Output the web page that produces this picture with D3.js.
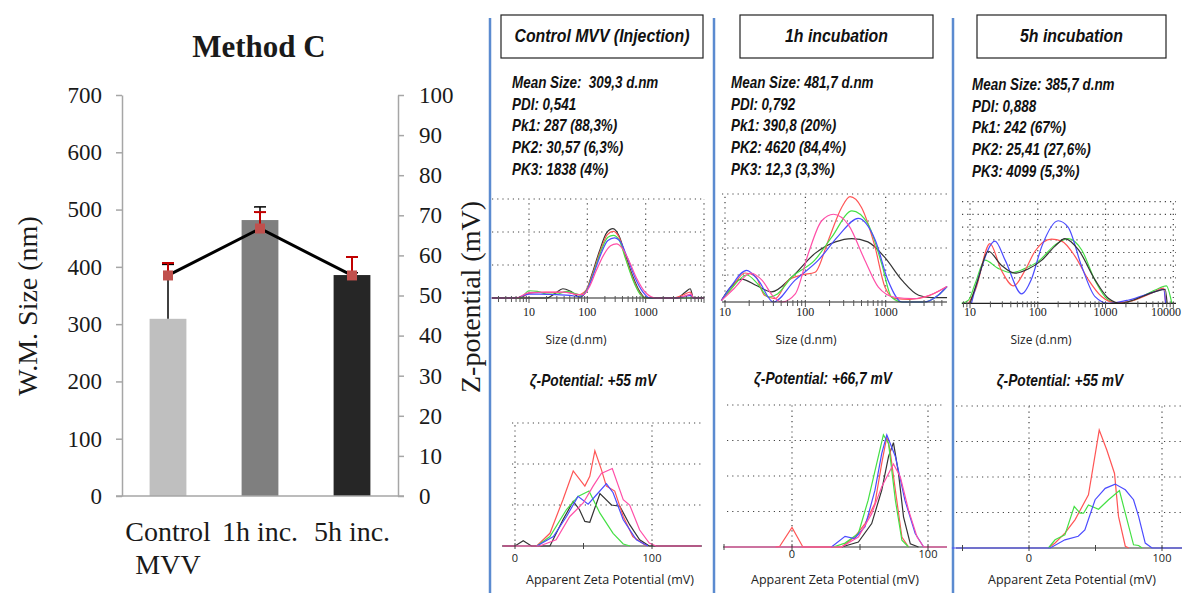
<!DOCTYPE html>
<html>
<head>
<meta charset="utf-8">
<script src="https://cdn.jsdelivr.net/npm/d3@7"></script>
<style>
  body { margin: 0; background: #fff; }
  svg { display: block; }
  .serif { font-family: "Liberation Serif", "Times New Roman", serif; fill: #1a1a1a; }
  .cal { font-family: "Liberation Sans", Arial, sans-serif; font-weight: bold; font-style: italic; fill: #111; }
  .sans { font-family: "Open Sans", "DejaVu Sans", sans-serif; fill: #222; }
</style>
</head>
<body>
<svg id="fig" width="1182" height="593"></svg>
<script>
// ---- left chart data ----
const categories = ['Control MVV', '1h inc.', '5h inc.'];
const categoryLines = [['Control', 'MVV'], ['1h inc.'], ['5h inc.']];
const sizeValues = [309.3, 481.7, 385.7];
const sizeErrors = [95, 23, 4];
const zetaValues = [55, 66.7, 55];
const zetaErrors = [3.1, 4.1, 4.6];
const sizeTicks = [0, 100, 200, 300, 400, 500, 600, 700];
const zetaTicks = [0, 10, 20, 30, 40, 50, 60, 70, 80, 90, 100];

// ---- right panels text ----
const panelTitles = ['Control MVV (Injection)', '1h incubation', '5h incubation'];
const panelStats = [
  ['Mean Size:  309,3 d.nm', 'PDI: 0,541', 'Pk1: 287 (88,3%)', 'PK2: 30,57 (6,3%)', 'PK3: 1838 (4%)'],
  ['Mean Size: 481,7 d.nm', 'PDI: 0,792', 'Pk1: 390,8 (20%)', 'PK2: 4620 (84,4%)', 'PK3: 12,3 (3,3%)'],
  ['Mean Size: 385,7 d.nm', 'PDI: 0,888', 'Pk1: 242 (67%)', 'PK2: 25,41 (27,6%)', 'PK3: 4099 (5,3%)']
];
const zetaTitles = ['ζ-Potential: +55 mV', 'ζ-Potential: +66,7 mV', 'ζ-Potential: +55 mV'];

// ---- size distributions [size d.nm, intensity] ----
const size1 = {
  black: [[2.3,0],[20,0],[28,0.7],[38,1.4],[52,1.0],[74,0.15],[95,1.0],[120,3.6],[160,7.0],[215,9.9],[275,10.5],[350,9.4],[450,6.5],[600,3.3],[800,0.9],[1000,0],[3400,0],[4800,0.9],[5800,1.4],[6600,0],[10000,0]],
  red: [[2.3,0],[7,0],[10,0.7],[15,0.85],[30,0.85],[45,0.9],[70,0.5],[95,1.2],[125,3.8],[165,7.0],[220,9.6],[280,10.1],[350,9.2],[450,6.2],[600,3.0],[800,0.7],[1000,0],[3000,0],[4500,0.5],[5800,0.9],[6600,0],[10000,0]],
  green: [[2.3,0],[7,0],[10,1.1],[14,1.0],[20,0.6],[30,0.6],[45,1.0],[60,0.7],[80,0.4],[100,1.4],[130,4.0],[170,7.0],[225,9.2],[280,9.5],[350,8.8],[450,6.0],[600,2.8],[800,0.6],[1000,0],[10000,0]],
  blue: [[2.3,0],[6,0],[10,0.6],[15,0.6],[30,0.5],[50,0.4],[75,0.2],[100,1.3],[130,3.8],[170,6.6],[225,8.7],[290,9.1],[370,8.5],[480,6.2],[650,3.2],[900,0.9],[1170,0],[3500,0],[5000,0.3],[6000,0.4],[6600,0],[10000,0]],
  pink: [[2.3,0],[6,0],[10,0.8],[20,0.9],[40,0.9],[60,0.6],[85,0.5],[110,1.8],[140,4.0],[190,6.5],[250,7.9],[315,8.2],[400,7.5],[520,5.6],[700,3.0],[1000,0.8],[1500,0],[3500,0],[5000,0.4],[6000,0.6],[6600,0],[10000,0]]
};
const size2 = {
  black: [[9,0.1],[11,0.9],[16,1.7],[25,1.2],[38,0.75],[68,1.85],[132,3.6],[236,4.45],[380,4.7],[600,4.45],[975,3.3],[1600,1.6],[2570,0.5],[3700,0.32],[5800,0.32]],
  red: [[9,0.1],[12,1.0],[17.7,2.15],[24,1.9],[31,0.5],[42,0.25],[61,1.6],[90,2.0],[132,2.2],[194,4.6],[283,7.0],[360,7.8],[500,7.0],[735,4.1],[980,1.1],[1310,0.25],[2000,0.2],[3200,0.4],[5800,1.15]],
  green: [[9,0.1],[12,1.0],[18.6,2.0],[25,1.4],[35,0.37],[45,0.6],[68,1.85],[131,3.1],[213,4.8],[380,6.75],[600,5.8],[890,2.85],[1180,0.37],[1600,0],[3000,0],[4500,0.5],[5800,1.15]],
  blue: [[9,0.1],[12,1.2],[18.6,2.35],[26,1.6],[40,0],[74,1.6],[145,3.1],[258,4.9],[455,6.2],[740,4.6],[1070,1.6],[1590,0],[3000,0],[4500,0.5],[5800,1.15]],
  pink: [[9,0.1],[13,1.0],[21,2.15],[29,1.6],[40,0.4],[51,0],[75,0.6],[109,3.6],[159,6.0],[224,6.5],[345,5.7],[550,3.1],[810,1.1],[1300,0.35],[2200,0.25],[3500,0.5],[5800,1.15]]
};
const size3 = {
  green: [[7.5,0],[9.5,0.25],[12,1.6],[16.6,3.4],[26,2.75],[41,2.4],[65,2.75],[102,3.3],[180,4.6],[282,5.1],[445,4.2],[700,1.8],[1100,0.26],[1600,0],[2500,0.2],[5400,1.05],[7900,1.37],[9500,0]],
  red: [[9.5,0],[12,1.05],[19.7,4.7],[29,2.6],[44,1.37],[65,2.6],[91,4.1],[160,5.05],[225,4.9],[355,3.7],[560,1.85],[875,0.53],[1400,0.05],[2200,0.13],[4800,0.8],[7200,1.2],[7700,0]],
  blue: [[10.5,0],[14,2.4],[23.4,4.9],[33,3.4],[58,0.74],[80,1.85],[115,4.5],[200,6.5],[280,6.0],[445,2.9],[700,0.53],[1100,0],[2200,0.26],[5400,0.92],[7200,1.1],[7700,0]],
  black: [[10,0],[13,1.8],[18.6,4.1],[29,3.0],[46,2.37],[72,2.7],[115,3.4],[180,4.5],[252,5.1],[400,4.2],[700,1.85],[1100,0.4],[1700,0],[2200,0.13],[5400,0.92],[7600,1.1],[8100,0]]
};

// ---- zeta distributions [mV, counts] ----
const zeta1 = {
  black: [[-9,0],[0,0],[6,0.13],[12,0],[25.5,0],[35,0.64],[42.5,1.09],[47,0.89],[51,0.6],[54.6,0.58],[62,1.28],[70.4,1.0],[76.5,0.97],[83.7,0.52],[91,0.15],[98,0],[136,0]],
  red: [[15.8,0],[25.5,0.31],[35,1.13],[42.5,1.83],[51,1.46],[54.6,1.7],[58.3,2.32],[63,1.87],[66.7,1.46],[72.8,1.34],[79,0.72],[86,0.23],[96,0]],
  green: [[16,0],[25.5,0.23],[37.6,0.89],[46,1.21],[54,1.34],[62,0.8],[71.6,0.31],[79,0.05],[84,0]],
  blue: [[16,0],[28,0.23],[37.6,0.72],[46,1.21],[53.4,1.02],[59.5,1.25],[66.7,1.52],[71.6,1.3],[79,0.64],[88.6,0.15],[97,0]],
  pink: [[-9,0],[18,0],[30,0.15],[40,0.72],[49.8,1.05],[57,1.46],[63,1.77],[71,1.89],[79,1.13],[83.7,1.0],[91,0.39],[98,0.07],[103,0],[136,0]]
};
const zeta2 = {
  black: [[36.5,0],[48.8,0.14],[58.6,0.66],[66,1.6],[71,2.55],[74.6,2.94],[78.3,2.08],[82,0.85],[87,0.09],[93,0]],
  red: [[-12,0],[-9,0.02],[0,0.55],[8,0],[36.5,0],[46,0.28],[53.7,0.66],[61,1.23],[66,2.36],[69.7,3.1],[72,2.74],[76,1.6],[80.8,0.28],[85.7,0]],
  green: [[30.3,0],[39,0.11],[48.8,0.38],[56,1.32],[63.5,2.55],[67.2,3.16],[71,2.92],[76,1.32],[80.8,0.19],[85.7,0]],
  blue: [[29,0],[39,0.3],[46,0.24],[53.7,0.57],[61,1.6],[66,2.64],[69.7,3.16],[76,2.55],[83,1.32],[90.6,0.38],[96.8,0]],
  pink: [[-50,0],[36.5,0],[48.8,0.28],[58.6,0.94],[66,1.7],[74.6,2.34],[79.6,1.98],[85.7,1.04],[92,0.28],[96.8,0],[114,0]]
};
const zeta3 = {
  red: [[14.6,0],[19.6,0.14],[27,0.42],[34.7,0.8],[44.7,1.5],[52.8,3.32],[58.5,2.76],[64.3,2.1],[67.3,0.89],[72.4,0.05],[75,0]],
  green: [[14.6,0],[19.6,0.23],[27,0.37],[34,1.17],[38.4,0.98],[41,0.98],[44.7,1.21],[52.3,1.09],[59.8,1.36],[68,1.62],[72.4,0.98],[78.6,0.09],[82.4,0.07],[85,0]],
  blue: [[-58,0],[16,0],[27,0.23],[37,0.33],[42,0.51],[49.7,1.36],[57.3,1.68],[64.8,1.8],[72.4,1.64],[78.6,1.36],[82.4,0.89],[87.4,0.14],[92.5,0],[138,0]]
};

const runColors = { black: '#333333', red: '#ff5555', green: '#44e044', blue: '#4b4bff', pink: '#ff4fa8' };

const svg = d3.select('#fig');

// ================= left: Method C =================
const x = d3.scaleBand().domain(categories).range([122, 398]).paddingInner(0.6).paddingOuter(0.3);
const ySize = d3.scaleLinear().domain([0, 700]).range([496, 95]);
const yZeta = d3.scaleLinear().domain([0, 100]).range([496, 95]);
const cx = i => x(categories[i]) + x.bandwidth() / 2;

svg.append('text').attr('class', 'serif')
  .attr('x', 259).attr('y', 57).attr('text-anchor', 'middle')
  .attr('font-size', 31).attr('font-weight', 'bold').text('Method C');

// bars
const barFill = ['#bfbfbf', '#7f7f7f', '#262626'];
svg.append('g').selectAll('rect').data(sizeValues).enter().append('rect')
  .attr('x', (d, i) => x(categories[i]))
  .attr('y', d => ySize(d))
  .attr('width', x.bandwidth())
  .attr('height', d => ySize(0) - ySize(d))
  .attr('fill', (d, i) => barFill[i]);

// axes
const axL = svg.append('g').attr('transform', 'translate(122,0)')
  .call(d3.axisLeft(ySize).tickValues(sizeTicks).tickSize(6).tickSizeOuter(0).tickPadding(14));
const axR = svg.append('g').attr('transform', 'translate(398,0)')
  .call(d3.axisRight(yZeta).tickValues(zetaTicks).tickSize(6).tickSizeOuter(0).tickPadding(15));
[axL, axR].forEach(a => {
  a.selectAll('path, line').attr('stroke', '#a6a6a6').attr('stroke-width', 1.5);
  a.selectAll('text').attr('class', 'serif').attr('font-size', 23).attr('fill', '#1a1a1a');
});
svg.append('line').attr('x1', 116).attr('x2', 404).attr('y1', ySize(0)).attr('y2', ySize(0))
  .attr('stroke', '#a6a6a6').attr('stroke-width', 1.5);

// size error bars (black)
const eb = svg.append('g').attr('stroke', '#000').attr('stroke-width', 1.5);
sizeValues.forEach((v, i) => {
  const top = ySize(v + sizeErrors[i]);
  eb.append('line').attr('x1', cx(i)).attr('x2', cx(i)).attr('y1', ySize(v)).attr('y2', top);
  eb.append('line').attr('x1', cx(i) - 6).attr('x2', cx(i) + 6).attr('y1', top).attr('y2', top);
});

// zeta line
svg.append('path').datum(zetaValues)
  .attr('d', d3.line().x((d, i) => cx(i)).y(d => yZeta(d)))
  .attr('fill', 'none').attr('stroke', '#000').attr('stroke-width', 3);

// zeta error bars (red)
const er = svg.append('g').attr('stroke', '#c00000').attr('stroke-width', 2);
zetaValues.forEach((v, i) => {
  const top = yZeta(v + zetaErrors[i]);
  er.append('line').attr('x1', cx(i)).attr('x2', cx(i)).attr('y1', yZeta(v)).attr('y2', top);
  er.append('line').attr('x1', cx(i) - 6).attr('x2', cx(i) + 6).attr('y1', top).attr('y2', top);
});
svg.append('g').selectAll('rect').data(zetaValues).enter().append('rect')
  .attr('x', (d, i) => cx(i) - 5).attr('y', d => yZeta(d) - 5)
  .attr('width', 10).attr('height', 10).attr('fill', '#c0504d');

// category labels
categoryLines.forEach((lines, i) => {
  lines.forEach((t, j) => {
    svg.append('text').attr('class', 'serif')
      .attr('x', cx(i)).attr('y', 541 + j * 33).attr('text-anchor', 'middle')
      .attr('font-size', 28).text(t);
  });
});

svg.append('text').attr('class', 'serif').attr('font-size', 28).attr('text-anchor', 'middle')
  .attr('transform', 'translate(37,306) rotate(-90)').text('W.M. Size (nm)');
svg.append('text').attr('class', 'serif').attr('font-size', 28).attr('text-anchor', 'middle')
  .attr('transform', 'translate(480,297) rotate(-90)').text('Z-potential (mV)');

// ================= right: DLS panels =================
// condensed bold italic text (narrow face is not installed, so squeeze horizontally)
function narrow(x0, y0, size, sx, anchor, t) {
  return svg.append('text').attr('class', 'cal').attr('font-size', size)
    .attr('text-anchor', anchor).attr('xml:space', 'preserve')
    .attr('transform', `translate(${x0},${y0}) scale(${sx},1)`).text(t);
}

const sepX = [490, 714, 953];
sepX.forEach(s => svg.append('line').attr('x1', s).attr('x2', s).attr('y1', 18).attr('y2', 593)
  .attr('stroke', '#5b8bd0').attr('stroke-width', 2.5));

const boxes = [[501, 15, 202, 43], [740, 15, 193, 43], [977, 15, 189, 43]];
boxes.forEach((b, i) => {
  svg.append('rect').attr('x', b[0]).attr('y', b[1]).attr('width', b[2]).attr('height', b[3])
    .attr('fill', '#fff').attr('stroke', '#222').attr('stroke-width', 1.2);
  narrow(b[0] + b[2] / 2, b[1] + 27, 18, 0.88, 'middle', panelTitles[i]);
});

const statX = [512, 731, 972];
const statY = [88, 88, 90];
panelStats.forEach((lines, i) => {
  lines.forEach((t, j) => narrow(statX[i], statY[i] + j * 21.7, 16, 0.84, 'start', t));
});

const line = (sx, sy, curve) => d3.line().x(d => sx(d[0])).y(d => sy(d[1])).curve(curve);

function dotted(g, x1, x2, y1, y2) {
  g.append('line').attr('x1', x1).attr('x2', x2).attr('y1', y1).attr('y2', y2)
    .attr('stroke', '#444').attr('stroke-width', 1.2).attr('stroke-dasharray', '1.2,4');
}

// size plots
const sizePanels = [
  { data: size1, x: d3.scaleLog().domain([10, 10000]).range([529, 704]), y: d3.scaleLinear().domain([0, 15]).range([298, 199]),
    grid: [5, 10, 15], decades: [10, 100, 1000, 10000], labels: [10, 100, 1000], x0: 492, x1: 704, labelX: 576 },
  { data: size2, x: d3.scaleLog().domain([10, 1000]).range([725, 885.7]), y: d3.scaleLinear().domain([0, 8]).range([302, 194]),
    grid: [2, 4, 6, 8], decades: [10, 100, 1000], labels: [10, 100, 1000], x0: 722, x1: 947, labelX: 806 },
  { data: size3, x: d3.scaleLog().domain([10, 10000]).range([970, 1173.3]), y: d3.scaleLinear().domain([0, 8]).range([303.3, 201.7]),
    grid: [2, 3, 4, 5, 6, 7, 8], decades: [10, 100, 1000, 10000], labels: [10, 100, 1000, 10000], x0: 962, x1: 1176, labelX: 1041 }
];

sizePanels.forEach(p => {
  const g = svg.append('g');
  const y0 = p.y(0), yTop = p.y(p.y.domain()[1]);
  p.grid.forEach(v => dotted(g, p.x0, p.x1, p.y(v), p.y(v)));
  p.decades.forEach(v => dotted(g, p.x(v), p.x(v), y0, yTop));
  Object.keys(p.data).forEach(k => {
    g.append('path').datum(p.data[k]).attr('d', line(p.x, p.y, d3.curveMonotoneX))
      .attr('fill', 'none').attr('stroke', runColors[k]).attr('stroke-width', 1.2);
  });
  g.append('line').attr('x1', p.x0).attr('x2', p.x1).attr('y1', y0).attr('y2', y0)
    .attr('stroke', '#222').attr('stroke-width', 1.2);
  const tscale = p.x.copy().domain([p.x.invert(p.x0), p.x.invert(p.x1)]).range([p.x0, p.x1]);
  tscale.ticks().forEach(t => {
    const major = p.decades.includes(t);
    g.append('line').attr('x1', p.x(t)).attr('x2', p.x(t)).attr('y1', y0 - 2).attr('y2', y0 + (major ? 5 : 4))
      .attr('stroke', '#555').attr('stroke-width', 1);
  });
  p.labels.forEach(t => {
    const px = p.x(t);
    const atEdge = px + 16 > 1182;
    g.append('text').attr('class', 'serif').attr('font-size', 12)
      .attr('x', atEdge ? 1181 : px).attr('y', 316).attr('text-anchor', atEdge ? 'end' : 'middle')
      .attr('fill', '#222').text(t);
  });
  g.append('text').attr('class', 'sans').attr('font-size', 12).attr('x', p.labelX).attr('y', 344)
    .attr('text-anchor', 'middle').text('Size (d.nm)');
});

// zeta plots
const zetaPanels = [
  { data: zeta1, x: d3.scaleLinear().domain([0, 100]).range([515, 652]), y: d3.scaleLinear().domain([0, 3]).range([546, 423]),
    grid: [1, 2, 3], x0: 502, x1: 702, gx0: 512, gx1: 701, ticks: [0, 50, 100], titleX: 593, titleY: 386, labelY: 562, axisLabelX: 610 },
  { data: zeta2, x: d3.scaleLinear().domain([0, 100]).range([792, 928]), y: d3.scaleLinear().domain([0, 4]).range([547, 405]),
    grid: [1, 2, 3, 4], x0: 723, x1: 947, gx0: 727, gx1: 942, ticks: [-50, 0, 50, 100], titleX: 823, titleY: 384, labelY: 558, axisLabelX: 835 },
  { data: zeta3, x: d3.scaleLinear().domain([0, 100]).range([1029, 1162]), y: d3.scaleLinear().domain([0, 4]).range([548, 406]),
    grid: [1, 2, 3, 4], x0: 956, x1: 1182, gx0: 956, gx1: 1182, ticks: [-50, 0, 50, 100], titleX: 1060, titleY: 386, labelY: 562, axisLabelX: 1072 }
];

zetaPanels.forEach((p, i) => {
  const g = svg.append('g');
  const y0 = p.y(0), yTop = p.y(p.y.domain()[1]);
  narrow(p.titleX, p.titleY, 16, 0.86, 'middle', zetaTitles[i]);
  p.grid.forEach(v => dotted(g, p.gx0, p.gx1, p.y(v), p.y(v)));
  [0, 100].forEach(v => dotted(g, p.x(v), p.x(v), y0, yTop));
  g.append('line').attr('x1', p.x0).attr('x2', p.x1).attr('y1', y0).attr('y2', y0)
    .attr('stroke', '#333').attr('stroke-width', 1.2);
  Object.keys(p.data).forEach(k => {
    g.append('path').datum(p.data[k]).attr('d', line(p.x, p.y, d3.curveLinear))
      .attr('fill', 'none').attr('stroke', runColors[k]).attr('stroke-width', 1.2);
  });
  p.ticks.forEach(t => g.append('line').attr('x1', p.x(t)).attr('x2', p.x(t)).attr('y1', y0 - 3).attr('y2', y0 + 3)
    .attr('stroke', '#444').attr('stroke-width', 1));
  [0, 100].forEach(t => g.append('text').attr('class', 'sans').attr('font-size', 11)
    .attr('x', p.x(t)).attr('y', p.labelY).attr('text-anchor', 'middle').text(t));
  g.append('text').attr('class', 'sans').attr('font-size', 12.5).attr('x', p.axisLabelX).attr('y', 584)
    .attr('text-anchor', 'middle').text('Apparent Zeta Potential (mV)');
});
</script>
</body>
</html>
